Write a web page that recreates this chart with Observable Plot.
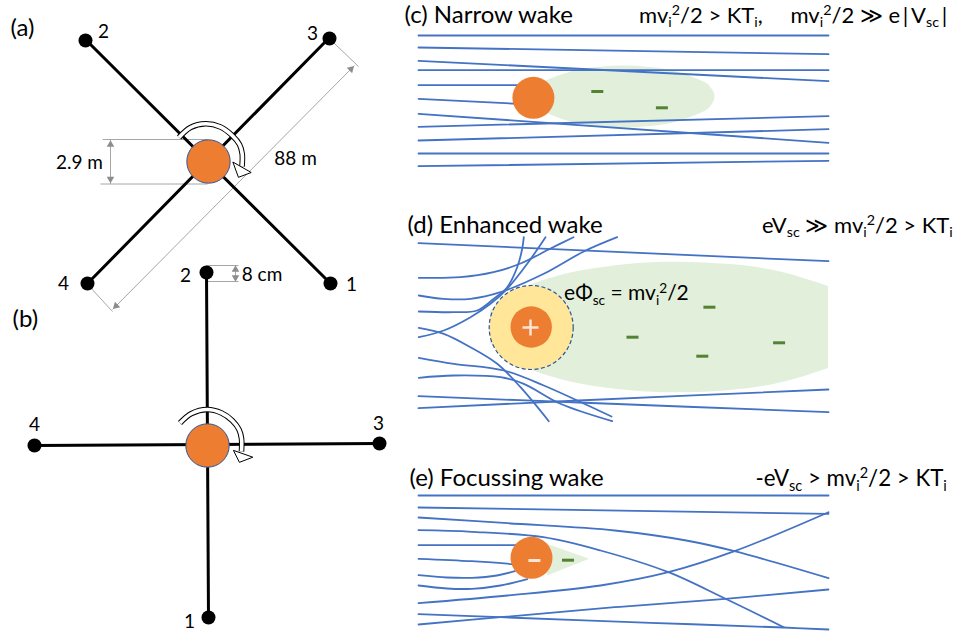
<!DOCTYPE html>
<html>
<head>
<meta charset="utf-8">
<script src="https://cdn.jsdelivr.net/npm/d3@7"></script>
<script src="https://cdn.jsdelivr.net/npm/@observablehq/plot@0.6"></script>
<style>
html,body{margin:0;padding:0;background:#fff}
svg{display:block}
</style>
</head>
<body>
<div id="chart"></div>
<script>
// ---- diagram geometry (x right, y down, in picture units)
const booms = [
  [[85,39],[330,283]], [[329,37],[87,283]],
  [[206,272],[208,617]], [[34,445],[379,443]]
];
const nodes = [[85,40],[329,38],[87,283],[330,283],[206,272],[34,445],[379,443],[208,617]];
const nodeLabels = [
  ["2",103,31],["3",312,33],["4",63,283],["1",351,284],
  ["2",185,275],["4",34,424],["3",378,423],["1",189,621]
];
const panelLabelsLeft = [["(a)",10,28],["(b)",12,319]];
const dimLines = [
  [[102,139],[207,139]], [[100,183.5],[207,183.5]], [[110,139],[110,183.5]],
  [[334,43],[358,66]], [[89,286],[112,311]], [[354,65],[112,309]],
  [[206,265],[238,265]], [[206,281],[238,281]], [[235,265],[235,281]]
];
const dimHeads = [
  [110,144,0],[110,178.5,180],[350.5,68.5,45],[115.5,305.5,225],[235,269,0],[235,277,180]
];
const dimLabels = [["2.9 m",79,162],["88 m",295,158],["8 cm",261.5,274]];
const spacecraft = [[208,161],[207,445]];
const spinArcs = [
  [[178.5,137],[190,127],[205,123.3],[220,126.5],[231.7,135],[239,144],[241.7,153.3],[241.5,166]],
  [[179.5,422.5],[191,413],[206.7,409],[221,412.5],[231.7,420],[238.5,429],[241,438],[241,451]]
];
const spinHeads = [
  [[232.7,161.7],[250.7,172],[238.3,176.7]],
  [[233.3,450],[252.3,456.7],[239.3,461.7]]
];

// panel (c)
const linesC = [
  [[418,35],[828,35]], [[418,47],[828,53.7]], [[418,60.3],[828,80.7]],
  [[418,69.7],[828,69.7]], [[418,84.7],[530,84.7]], [[418,98.3],[530,104]],
  [[418,113.3],[828,142.3]], [[418,126.3],[828,115.7]], [[418,140],[828,128.7]],
  [[418,153],[828,153]], [[418,165.7],[828,160.3]]
];
const wakeC = [[714,96],[710.9,104],[701.8,111.5],[668.5,122.8],[623,127],[577.5,122.8],[544.2,111.5],[535.1,104],[532,96],[535.1,88],[544.2,80.5],[577.5,69.2],[623,65],[668.5,69.2],[701.8,80.5],[710.9,88]];
const bodyC = [532.9,97.3];
const minusC = [[596.8,91],[661.4,107.3]];

// panel (d)
const linesD = [
  [[418,242.7],[828,260.7]],
  [[418.3,277.3],[460,276.7],[493,271.7],[520,263],[550,248],[573,236.7]],
  [[418.3,295],[443,298.3],[470,298.3],[500,291.7],[543.3,273.3],[583.3,251],[616.7,236.7]],
  [[418.3,311],[453.3,311.7],[476.7,310],[493.3,298.3],[506.7,286.7],[516.7,266.7],[521.7,248.3],[523.3,236.7]],
  [[418.3,336.7],[443.3,330],[470,316.7],[490,303.3],[506.7,288.3],[526.7,263.3],[545,236.7]],
  [[418.3,327.3],[443.3,333.3],[470,346.7],[496.7,363.3],[520,386.7],[548.3,420.7]],
  [[418.3,357.3],[453.3,363.3],[503.3,370],[543.3,385],[576.7,400],[611,416]],
  [[418.3,377.3],[453.3,375],[500,376.7],[523.3,383.3],[560,403.3],[611.7,420.7]],
  [[418,395.7],[578,402],[828,411.7]],
  [[418,407.7],[578,400],[828,389]]
];
const wakeDx  = [490,510,540,580,630,678,730,780,828];
const wakeDy1 = [310.9,294.3,281.1,270.6,263.7,261.7,264.1,271.4,286];
const wakeDy2 = [343.1,359.7,372.9,383.4,390.3,392.3,389.9,382.6,368];
const sheathD = [530.7,327];
const bodyD = [530.7,326.5];
const plusD = [[[522,327],[538,327]],[[530,319],[530,335]]];
const minusD = [[708.9,306.7],[632,336.7],[701.8,355.7],[778.6,342.3]];

// panel (e)
const linesE = [
  [[418,495],[828,495]], [[418,507],[828,513.3]],
  [[418,517],[507,522.7],[614.3,530],[685.7,540],[734,550.7],[828,577.7]],
  [[418,529.7],[471.4,531.3],[542.9,536.7],[600,550],[667.9,571.7],[725,598.3],[783.2,626.7]],
  [[418,544.7],[518,544.7]],
  [[418,558.3],[471.4,560.7],[512.5,563.7]],
  [[418,574.7],[446.4,577],[471.4,577.3],[496.4,575],[514.3,570.7]],
  [[418,585],[446.4,588],[471.4,588.3],[500,585],[526.8,578.7]],
  [[418,602.7],[507,595],[600,585],[667.9,571.7],[734,550.7],[828,511.7]],
  [[418,624],[500,616.7],[614.3,606.7],[725,598.3],[828,589]],
  [[418,613.7],[500,616.7],[650,622.3],[783.2,627],[828,629]]
];
const wakeE = [[546.4,543.3],[588.6,558.3],[546.4,575]];
const bodyE = [531,557.3];
const minusEin = [[533.9,560]];
const minusEout = [[567.5,559.7]];

// text
const titles = [
  ["(c) Narrow wake",404,15],["(d) Enhanced wake",407,225],["(e) Focussing wake",409,478]
];
const conditionsC = [
  ["mv_{i}^{2}/2 > KT_{i},",638.6,15],["mv_{i}^{2}/2 \u226B e\u2009|\u2009V_{sc}\u2009|",790,15]
];
const conditionD = [["eV_{sc} \u226B mv_{i}^{2}/2 > KT_{i}",761.4,225]];
const conditionE = [["-eV_{sc} > mv_{i}^{2}/2 > KT_{i}",755,478]];
const sheathLabel = [["e\u03A6_{sc} = mv_{i}^{2}/2",563.6,293]];

const X = d => d[0], Y = d => d[1];
const ORANGE = "#ed7d31", BLUE = "#4472c4", GREEN = "#e2efda", DGREEN = "#548235", EDGE = "#2f5597", GREY = "#a6a6a6", PALE = "#fbe5d6";
const FONT = "Lato, 'Noto Sans', sans-serif";

const polylines = (list, o) => list.map(p => Plot.line(p, {x: X, y: Y, ...o}));
const minus = (pts, color) => Plot.link(pts, {x1: d => d[0] - 6, x2: d => d[0] + 6, y1: Y, y2: Y, stroke: color, strokeWidth: 3, strokeLinecap: "butt"});
const label = (rows, size, anchor) => Plot.text(rows, {x: d => d[1], y: d => d[2], text: d => d[0], fontSize: size, textAnchor: anchor, fill: "#000"});

const chart = Plot.plot({
  width: 958, height: 633, margin: 0,
  style: {background: "#fff", fontFamily: FONT},
  x: {domain: [0, 958], axis: null},
  y: {domain: [633, 0], axis: null},
  marks: [
    // left side
    ...polylines(dimLines, {stroke: GREY, strokeWidth: 1, strokeLinecap: "butt"}),
    Plot.dot(dimHeads, {x: X, y: Y, rotate: d => d[2], symbol: "triangle2", r: 3.6, fill: "#8c8c8c", stroke: "none"}),
    ...polylines(booms, {stroke: "#000", strokeWidth: 3}),
    Plot.dot(nodes, {x: X, y: Y, r: 7, fill: "#000", stroke: "none"}),
    Plot.dot(spacecraft, {x: X, y: Y, r: 21.7, fill: ORANGE, stroke: EDGE, strokeWidth: 1}),
    ...polylines(spinArcs, {stroke: "#000", strokeWidth: 5.6, curve: "catmull-rom", strokeLinecap: "butt"}),
    ...polylines(spinArcs, {stroke: "#fff", strokeWidth: 3.6, curve: "catmull-rom", strokeLinecap: "butt"}),
    ...spinHeads.map(h => Plot.line(h, {x: X, y: Y, fill: "#fff", stroke: "#000", strokeWidth: 1, curve: "linear-closed"})),
    label(nodeLabels, 19, "middle"),
    label(panelLabelsLeft, 24, "start"),
    label(dimLabels, 19, "middle"),

    // panel (c)
    Plot.line(wakeC, {x: X, y: Y, fill: GREEN, stroke: "none", curve: "cardinal-closed"}),
    ...polylines(linesC, {stroke: BLUE, strokeWidth: 1.8}),
    Plot.dot([bodyC], {x: X, y: Y, r: 21, fill: ORANGE, stroke: "none"}),
    minus(minusC, DGREEN),

    // panel (d)
    Plot.areaY(wakeDx, {x: d => d, y1: (d, i) => wakeDy1[i], y2: (d, i) => wakeDy2[i], fill: GREEN, curve: "natural"}),
    Plot.dot([sheathD], {x: X, y: Y, r: 42, fill: "#ffe699", stroke: EDGE, strokeWidth: 1.2, strokeDasharray: "4,2.5"}),
    Plot.dot([bodyD], {x: X, y: Y, r: 20.7, fill: ORANGE, stroke: "none"}),
    ...polylines(plusD, {stroke: PALE, strokeWidth: 2.5, strokeLinecap: "butt"}),
    ...polylines(linesD, {stroke: BLUE, strokeWidth: 1.8, curve: "catmull-rom"}),
    minus(minusD, DGREEN),

    // panel (e)
    Plot.line(wakeE, {x: X, y: Y, fill: GREEN, stroke: "none", curve: "linear-closed"}),
    ...polylines(linesE, {stroke: BLUE, strokeWidth: 1.8, curve: "catmull-rom"}),
    Plot.dot([bodyE], {x: X, y: Y, r: 21, fill: ORANGE, stroke: "none"}),
    minus(minusEin, PALE),
    minus(minusEout, DGREEN),

    // titles
    label(titles, 24, "start"),
    label(conditionsC, 22, "start"),
    label(conditionD, 22, "start"),
    label(conditionE, 22.3, "start"),
    label(sheathLabel, 21, "start")
  ]
});
document.getElementById("chart").append(chart);

// sub- and superscripts stay real text: rewrite _{..} and ^{..} runs as tspans
chart.querySelectorAll("text").forEach(t => {
  const src = t.textContent;
  if (!/[_^]\{/.test(src)) return;
  const fs = parseFloat(getComputedStyle(t).fontSize);
  t.textContent = "";
  let shift = 0;
  for (const m of src.matchAll(/_\{(.*?)\}|\^\{(.*?)\}|[^_^]+/g)) {
    const sub = m[1] !== undefined, sup = m[2] !== undefined;
    const target = sub ? 0.22 * fs : sup ? -0.36 * fs : 0;
    const s = document.createElementNS("http://www.w3.org/2000/svg", "tspan");
    s.setAttribute("dy", (target - shift) + "px");
    if (sub || sup) s.setAttribute("font-size", (fs * 0.65) + "px");
    s.textContent = sub ? m[1] : sup ? m[2] : m[0];
    t.append(s);
    shift = target;
  }
});
</script>
</body>
</html>
